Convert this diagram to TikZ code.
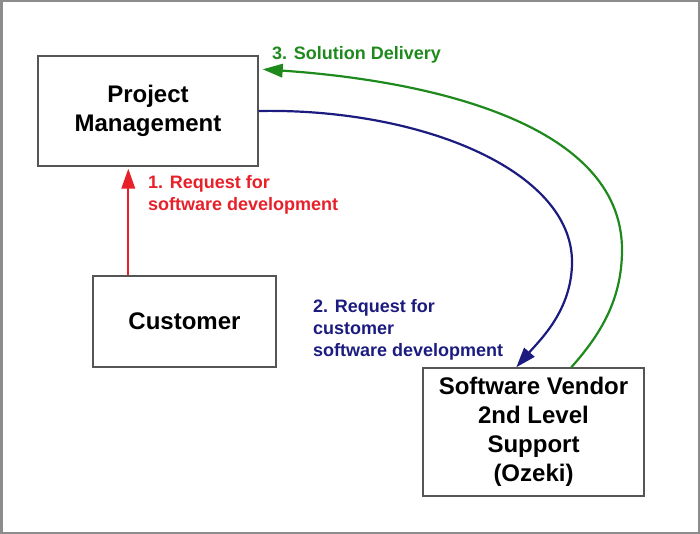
\documentclass[tikz,border=0pt]{standalone}
\usepackage{fontspec}
\setmainfont{Liberation Sans}
\usetikzlibrary{arrows.meta, positioning}
\definecolor{reqred}{HTML}{E8202A}
\definecolor{reqblue}{HTML}{1C1C80}
\definecolor{delgreen}{HTML}{1E8A1E}
\definecolor{framegray}{HTML}{8C8C8C}
\definecolor{boxgray}{HTML}{555555}
\tikzset{
  unit/.style={draw=boxgray, line width=1.4pt, align=center, inner sep=0pt,
    font=\fontsize{24}{29}\selectfont\bfseries},
  steplabel/.style={anchor=north west, align=left, inner sep=0pt,
    font=\fontsize{18}{22}\selectfont\bfseries},
  flow/.style={line width=2.2pt, -{Triangle[width=13.5pt, length=20pt]}}
}

\begin{document}
\begin{tikzpicture}[x=1pt, y=-1pt]
    \useasboundingbox (0,0) rectangle (700,534);
    \draw[framegray, line width=2.5pt] (1.25,1.25) rectangle (698.75,532.75);
    \node[unit, minimum width=220pt, minimum height=110pt] (pm) at (148,111) {Project\\Management};
    \node[unit, minimum width=183pt, minimum height=91pt] (cust) at (184.5,321.5) {Customer};
    \node[unit, minimum width=221pt, minimum height=128pt] (vendor) at (533.5,432) {Software Vendor\\2nd Level\\Support\\(Ozeki)};
    \draw[flow, reqred] ([xshift=36pt]cust.north west) -- ([xshift=36pt, yshift=-2pt]cust.north west |- pm.south);
    \node[steplabel, reqred] (req1) at (148,175) {1. Request for\\software development};
    \draw[flow, reqblue] (pm.east) .. controls (420,108) and (572,170) .. (572,262)
              .. controls (572,310) and (540,340) .. ([xshift=94pt]vendor.north west);
    \node[steplabel, reqblue] (req2) at (313,299) {2. Request for\\customer\\software development};
    \draw[flow, delgreen] ([xshift=149pt]vendor.north west) .. controls (600,335) and (622,300) .. (622,250)
              .. controls (622,120) and (420,80) .. ([xshift=4pt, yshift=-14pt]pm.north east);
    \node[steplabel, delgreen] (deliv) at (272,46) {3. Solution Delivery};
\end{tikzpicture}
\end{document}
